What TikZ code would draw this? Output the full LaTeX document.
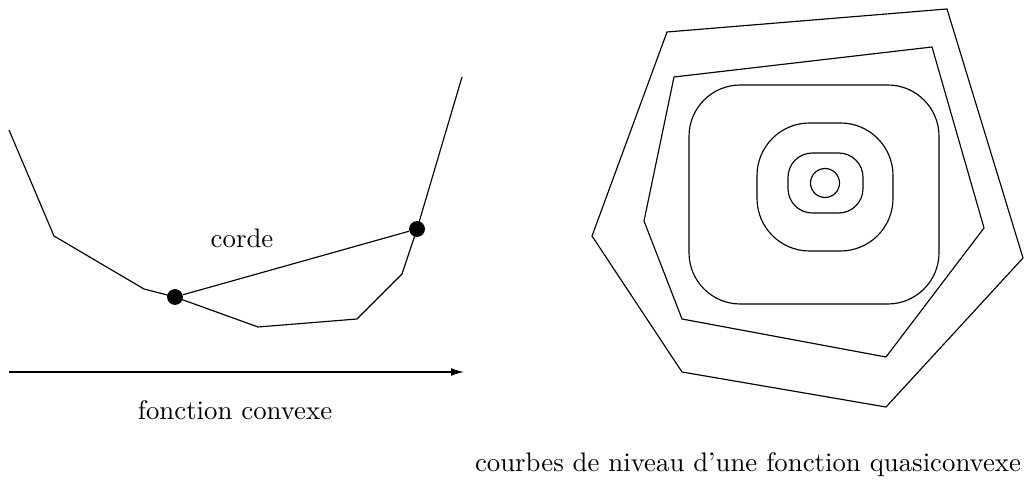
\documentclass[tikz,border=0pt]{standalone}
\usepackage{tikz}
\usetikzlibrary{arrows.meta,positioning}

\begin{document}
\begin{tikzpicture}[
  x=0.39pt, y=-0.39pt,
  line width=0.45pt,
  pt/.style={circle, fill=black, inner sep=0pt, minimum size=6.2pt},
  curve/.style={draw=black, line join=miter},
  axis/.style={-{Latex[length=5pt,width=3pt]}},
  level/.style={draw=black},
  lab/.style={inner sep=1pt, font=\fontsize{10.45pt}{12.5pt}\selectfont},
]
\useasboundingbox (0,0) rectangle (1026,484);

% ---------------- left: fonction convexe ----------------
\coordinate (c0) at (9,130);
\coordinate (c1) at (54,236);
\coordinate (c2) at (144,289);
\node[pt] (P) at (175,297) {};
\coordinate (c3) at (258,327);
\coordinate (c4) at (357,319);
\coordinate (c5) at (402,274);
\node[pt] (Q) at (417,229) {};
\coordinate (c6) at (462,77);

\draw[curve] (c0) -- (c1) -- (c2) -- (P.center) -- (c3) -- (c4) -- (c5)
  -- (Q.center) -- (c6);
% la corde
\draw (P) -- (Q);
\node[lab] (corde) at (242,238) {corde};

\coordinate (ax0) at (9,372);
\coordinate (ax1) at (464,372);
\draw[axis] (ax0) -- (ax1);
\node[lab] (fconv) at (235,410) {fonction convexe};

% ---------------- right: courbes de niveau ----------------
\draw[level] (667,32) -- (947,9) -- (1023,258) -- (886,407) -- (682,372)
  -- (592,236) -- cycle;
\draw[level] (674,77) -- (932,47) -- (984,228) -- (886,357) -- (682,319)
  -- (644,221) -- cycle;
\draw[level, rounded corners=20pt] (689,85) rectangle (939,304);
\draw[level, rounded corners=20.5pt] (757,123) rectangle (893,251);
\draw[level, rounded corners=9.5pt] (788,153) rectangle (863,213);
\draw[level] (825,183) circle (14.5);

\node[lab] (fquasi) at (748,465) {courbes de niveau d'une fonction quasiconvexe};

\end{tikzpicture}
\end{document}
